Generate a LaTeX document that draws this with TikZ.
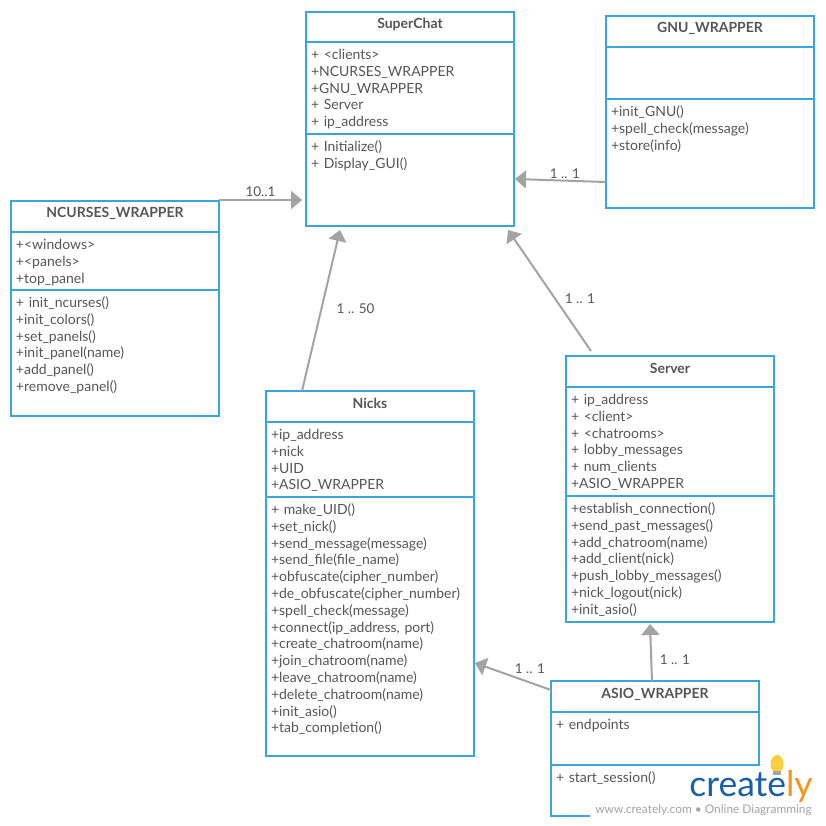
\documentclass[tikz,border=0pt]{standalone}
\usepackage{fontspec}
\setmainfont{Lato}
\usetikzlibrary{arrows.meta,positioning}
\definecolor{boxblue}{HTML}{39A5DC}
\definecolor{inkgrey}{HTML}{555555}
\definecolor{pilgrey}{HTML}{A3A3A3}
\definecolor{logoblue}{HTML}{1B5FA9}
\definecolor{logoorange}{HTML}{F7941E}
\tikzset{
    %Define standard arrow tip
    >={Triangle[length=11pt,width=18pt]},
    %Define style for class title
    classtitle/.style={
           rectangle,
           draw=boxblue, line width=2pt,
           outer sep=0pt,
           anchor=north west,
           minimum width=208pt,
           text=inkgrey,
           font=\fontsize{14}{16}\selectfont\bfseries,
           text height=10pt,
           text depth=7pt,
           inner ysep=5pt},
    %Define style for class compartments
    classpart/.style={
           rectangle,
           draw=boxblue, line width=2pt,
           outer sep=0pt,
           text width=198pt,
           inner xsep=5pt,
           inner ysep=5.7pt,
           align=left,
           text=inkgrey,
           font=\fontsize{14}{16.8}\selectfont,
           text height=11.76pt,
           text depth=#1-23.16pt,
           execute at begin node=\strut},
    % Define arrow style
    pil/.style={
           ->,
           draw=pilgrey,
           line width=2pt},
    % Define style for multiplicity labels
    mult/.style={
           text=inkgrey,
           inner sep=0pt,
           font=\fontsize{13.5}{16}\selectfont}
}
\begin{document}
\begin{tikzpicture}[x=1pt, y=-1pt, node distance=0pt]
        \useasboundingbox (0,0) rectangle (825,826);

        % SuperChat class
        \node[classtitle, minimum height=30pt]
        (superchat) at (306,12)
        {SuperChat}
        ;
        \node[classpart=92pt, below=of superchat]
        (superchat-attrs)
        {+ <clients>\\+NCURSES\_WRAPPER\\+GNU\_WRAPPER\\+ Server\\+ ip\_address}
        ;
        \node[classpart=92pt, below=of superchat-attrs]
        (superchat-ops)
        {+ Initialize()\\+ Display\_GUI()}
        ;

        % GNU wrapper class
        \node[classtitle, minimum height=31pt]
        (gnu) at (606,16)
        {GNU\_WRAPPER}
        ;
        \node[classpart=52pt, below=of gnu]
        (gnu-attrs)
        {}
        ;
        \node[classpart=109pt, below=of gnu-attrs]
        (gnu-ops)
        {+init\_GNU()\\+spell\_check(message)\\+store(info)}
        ;

        % NCURSES wrapper class
        \node[classtitle, minimum height=31pt]
        (ncurses) at (11,201)
        {NCURSES\_WRAPPER}
        ;
        \node[classpart=58pt, below=of ncurses]
        (ncurses-attrs)
        {+<windows>\\+<panels>\\+top\_panel}
        ;
        \node[classpart=126pt, below=of ncurses-attrs]
        (ncurses-ops)
        {+ init\_ncurses()\\+init\_colors()\\+set\_panels()\\+init\_panel(name)\\+add\_panel()\\+remove\_panel()}
        ;

        % Nicks class
        \node[classtitle, minimum height=31pt]
        (nicks) at (266,391)
        {Nicks}
        ;
        \node[classpart=75pt, below=of nicks]
        (nicks-attrs)
        {+ip\_address\\+nick\\+UID\\+ASIO\_WRAPPER}
        ;
        \node[classpart=259pt, below=of nicks-attrs]
        (nicks-ops)
        {+ make\_UID()\\+set\_nick()\\+send\_message(message)\\+send\_file(file\_name)\\+obfuscate(cipher\_number)\\+de\_obfuscate(cipher\_number)\\+spell\_check(message)\\+connect(ip\_address, port)\\+create\_chatroom(name)\\+join\_chatroom(name)\\+leave\_chatroom(name)\\+delete\_chatroom(name)\\+init\_asio()\\+tab\_completion()}
        ;

        % Server class
        \node[classtitle, minimum height=31pt]
        (server) at (566,356)
        {Server}
        ;
        \node[classpart=109pt, below=of server]
        (server-attrs)
        {+ ip\_address\\+ <client>\\+ <chatrooms>\\+ lobby\_messages\\+ num\_clients\\+ASIO\_WRAPPER}
        ;
        \node[classpart=126pt, below=of server-attrs]
        (server-ops)
        {+establish\_connection()\\+send\_past\_messages()\\+add\_chatroom(name)\\+add\_client(nick)\\+push\_lobby\_messages()\\+nick\_logout(nick)\\+init\_asio()}
        ;

        % ASIO wrapper class
        \node[classtitle, minimum height=31pt]
        (asio) at (551,681)
        {ASIO\_WRAPPER}
        ;
        \node[classpart=53pt, below=of asio]
        (asio-attrs)
        {+ endpoints}
        ;
        \node[classpart=51pt, below=of asio-attrs]
        (asio-ops)
        {+ start\_session()}
        ;

        % NCURSES wrapper and SuperChat
        \draw[pil]
        ([yshift=1pt]ncurses.north east) -- node[mult, above=2pt, xshift=0pt]
            {10..1}
        ([xshift=-4pt,yshift=1pt]superchat-ops.west |- ncurses.north east)
        ;

        % GNU wrapper and SuperChat
        \draw[pil]
        ([yshift=-83pt]gnu-attrs.south west) --
        ([xshift=1pt,yshift=-45pt]superchat-ops.north east)
        ;
        \node[mult] (gnu-mult) at (565,173.5) {1 .. 1};

        % Nicks and SuperChat
        \draw[pil]
        ([xshift=36pt]nicks.north west) --
        ([xshift=34pt,yshift=-4pt]superchat-ops.south west)
        ;
        \node[mult] (nicks-mult) at (355.5,308.5) {1 .. 50};

        % Server and SuperChat
        \draw[pil]
        ([xshift=25pt,yshift=5pt]server.north west) --
        ([xshift=-6pt,yshift=-4pt]superchat-ops.south east)
        ;
        \node[mult] (server-mult) at (580,298.5) {1 .. 1};

        % ASIO wrapper and Server
        \draw[pil]
        ([xshift=101pt]asio.north west) --
        ([xshift=84pt,yshift=-2pt]server-ops.south west)
        ;
        \node[mult] (asio-server-mult) at (675,659.5) {1 .. 1};

        % ASIO wrapper and Nicks
        \draw[pil]
        ([yshift=-9pt]asio.north west) --
        ([xshift=1pt,yshift=93pt]nicks-ops.south east)
        ;
        \node[mult] (asio-nicks-mult) at (530,668.5) {1 .. 1};

        % watermark
        \fill[white] (590,801) -- (661,801) -- (661,766) -- (825,766) -- (825,826) -- (590,826) -- cycle;
        \fill[yellow!55!orange!75] (777,764) ellipse (6.5pt and 9pt);
        \fill[pilgrey] (773,771) rectangle (781,775);
        \node[inner sep=0pt, font=\fontsize{35.5}{36}\selectfont]
        (logo) at (751,786)
        {\textcolor{logoblue}{create}\textcolor{logoorange}{ly}}
        ;
        \node[inner sep=0pt, text=pilgrey, font=\fontsize{11.9}{14}\selectfont]
        (tagline) at (703.5,810)
        {www.creately.com • Online Diagramming}
        ;
\end{tikzpicture}
\end{document}
